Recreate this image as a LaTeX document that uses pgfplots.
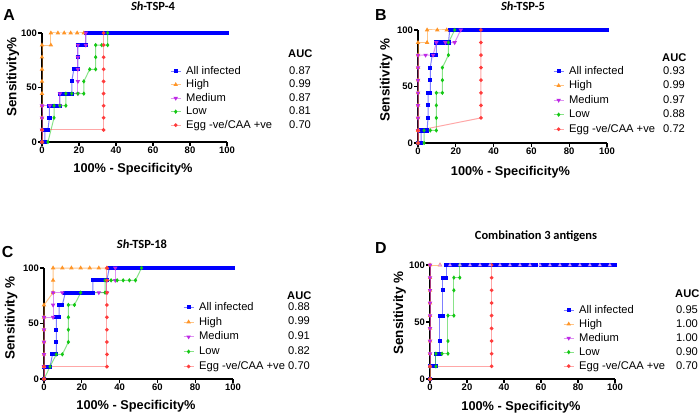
\documentclass[border=0pt]{standalone}
\usepackage{pgfplots}
\pgfplotsset{compat=1.18}
\usepackage{pgfplotstable}
\usepackage{fontspec}
\setmainfont{Liberation Sans}
\newfontfamily\calibri{Carlito}

\definecolor{cAll}{RGB}{0,0,255}
\definecolor{cHigh}{RGB}{255,150,40}
\definecolor{cMed}{RGB}{190,40,230}
\definecolor{cLow}{RGB}{20,200,20}
\definecolor{cEgg}{RGB}{255,60,60}

\pgfplotstableread[row sep=\\]{x y\\
0 100\\ 1 100\\ 2 100\\ 3 100\\ 4 100\\ 5 100\\ 6 100\\ 7 100\\ 8 100\\ 9 100\\
10 100\\ 11 100\\ 12 100\\ 13 100\\ 14 100\\ 15 100\\ 16 100\\ 17 100\\ 18 100\\ 19 100\\
20 100\\ 21 100\\ 22 100\\ 23 100\\ 24 100\\ 25 100\\ 26 100\\ 27 100\\ 28 100\\ 29 100\\
30 100\\ 31 100\\ 32 100\\ 33 100\\ 34 100\\ 35 100\\ 36 100\\ 37 100\\ 38 100\\ 39 100\\
40 100\\ 41 100\\ 42 100\\ 43 100\\ 44 100\\ 45 100\\ 46 100\\ 47 100\\ 48 100\\ 49 100\\
50 100\\ 51 100\\ 52 100\\ 53 100\\ 54 100\\ 55 100\\ 56 100\\ 57 100\\ 58 100\\ 59 100\\
60 100\\ 61 100\\ 62 100\\ 63 100\\ 64 100\\ 65 100\\ 66 100\\ 67 100\\ 68 100\\ 69 100\\
70 100\\ 71 100\\ 72 100\\ 73 100\\ 74 100\\ 75 100\\ 76 100\\ 77 100\\ 78 100\\ 79 100\\
80 100\\ 81 100\\ 82 100\\ 83 100\\ 84 100\\ 85 100\\ 86 100\\ 87 100\\ 88 100\\ 89 100\\
90 100\\ 91 100\\ 92 100\\ 93 100\\ 94 100\\ 95 100\\ 96 100\\ 97 100\\ 98 100\\ 99 100\\
100 100\\
}\toprow

\pgfplotsset{
  rocaxis/.style={
    scale only axis, xmin=0, xmax=100, ymin=0, ymax=100, clip=false,
    axis x line*=bottom, axis y line*=left,
    axis line style={line width=1.6bp, black, -},
    xtick={0,20,40,60,80,100}, ytick={0,50,100},
    tick align=outside, major tick length=4bp,
    every tick/.style={black, line width=1.2bp},
    ticklabel style={font=\bfseries\fontsize{9.5}{11}\selectfont, inner sep=1bp},
    /pgf/number format/assume math mode=true,
    legend cell align=left,
    legend image code/.code={\draw[mark repeat=2,mark phase=2] plot coordinates {(0bp,0bp)(5bp,0bp)(10bp,0bp)};},
    legend style={draw=none, fill=none, inner sep=0pt, anchor=north west,
      font=\fontsize{11.2}{13}\selectfont,
      nodes={inner sep=0pt, text height=8.5bp, text depth=2.5bp},
      /tikz/every odd column/.append style={column sep=5bp}},
  },
  sAll/.style={color=cAll, line width=1bp, draw opacity=0.5, mark=square*, mark size=1.6bp,
    mark options={solid, draw opacity=1, fill opacity=1, fill=cAll}},
  sHigh/.style={color=cHigh, line width=1bp, draw opacity=0.55, mark=triangle*, mark size=1.6bp,
    mark options={solid, draw opacity=1, fill opacity=1, fill=cHigh}},
  sMed/.style={color=cMed, line width=1bp, draw opacity=0.5, mark=triangle*, mark size=1.6bp,
    mark options={solid, rotate=180, draw opacity=1, fill opacity=1, fill=cMed}},
  sLow/.style={color=cLow, line width=1bp, draw opacity=0.5, mark=diamond*, mark size=1.4bp,
    mark options={solid, draw opacity=1, fill opacity=1, fill=cLow}},
  sEgg/.style={color=cEgg, line width=1bp, draw opacity=0.45, mark=*, mark size=1.3bp,
    mark options={solid, draw opacity=1, fill opacity=1, fill=cEgg}},
}

\newcommand\ttlf{\calibri\bfseries\fontsize{12.5}{14}\selectfont}
\newcommand\lettf{\bfseries\fontsize{16}{18}\selectfont}
\newcommand\xlf{\bfseries\fontsize{12.8}{14}\selectfont}
\newcommand\ylf{\bfseries\fontsize{13.5}{15}\selectfont}
\newcommand\lgf{\fontsize{11.2}{13}\selectfont}

\begin{document}
\begin{tikzpicture}[x=1bp,y=1bp]
\useasboundingbox (0,0) rectangle (700,416);
\fill[white] (0,0) rectangle (700,416);

% ---------------- A ----------------
\begin{axis}[rocaxis, at={(42bp,274bp)}, anchor=south west, width=185bp, height=109bp,
  legend style={at={(0.692,0.702)}, row sep=2.5bp}]
\addplot[sAll, forget plot, restrict x to domain=24:32] table {\toprow};
\addplot[sAll, forget plot, restrict x to domain=34:100] table {\toprow};
\addplot[sAll] coordinates {(0,0)(0.8,0)(1.6,0)(1.6,11.1)(2.4,11.1)(3.2,11.1)(4,22.2)(4,33.3)(5,33.3)(6,33.3)(7,33.3)(8,33.3)(9.7,33.3)(9.7,44.4)(11,44.4)(12,44.4)(13,44.4)(14,44.4)(15,44.4)(16.1,44.4)(16.1,55.6)(17.2,66.7)(18.3,66.7)(19.4,66.7)(19.4,77.8)(19.4,88.9)(20.4,88.9)(21.5,88.9)(22.6,88.9)(23.7,88.9)(23.7,100)};
\addlegendentry{All infected}
\addplot[sHigh] coordinates {(0,0)(0,11.1)(0,22.2)(0,33.3)(0,44.4)(0,55.6)(0,66.7)(0,77.8)(0,88.9)(4.8,88.9)(4.8,100)(8.6,100)(12,100)(15.5,100)(19,100)(22.6,100)};
\addlegendentry{High}
\addplot[sMed] coordinates {(0,0)(0,11.1)(0,22.2)(0,33.3)(4.2,33.3)(9.7,33.3)(9.7,44.4)(19.4,44.4)(19.4,55.6)(19.4,66.7)(19.4,77.8)(19.4,88.9)(23.7,88.9)(23.7,100)};
\addlegendentry{Medium}
\addplot[sLow] coordinates {(0,0)(3.2,0)(6.5,22.2)(6.5,33.3)(9.7,33.3)(12.9,33.3)(12.9,44.4)(16.1,44.4)(19.4,44.4)(22.6,44.4)(22.6,55.6)(25.8,66.7)(29,66.7)(29,77.8)(29,88.9)(32.3,88.9)(35.5,88.9)(35.5,100)};
\addlegendentry{Low}
\addplot[sEgg] coordinates {(0,0)(0,11.1)(33.3,11.1)(33.3,22.2)(33.3,33.3)(33.3,44.4)(33.3,55.6)(33.3,66.7)(33.3,77.8)(33.3,88.9)(33.3,100)};
\addlegendentry{Egg -ve/CAA +ve}
\end{axis}

% ---------------- B ----------------
\begin{axis}[rocaxis, at={(418bp,273bp)}, anchor=south west, width=189bp, height=113bp,
  legend style={at={(0.714,0.686)}, row sep=3.5bp}]
\addplot[sAll, forget plot, restrict x to domain=17:100] table {\toprow};
\addplot[sAll] coordinates {(0,0)(0.8,0)(1.6,0)(1.6,11.1)(2.4,11.1)(3.2,11.1)(4,11.1)(4.8,11.1)(5.3,22.2)(5.3,33.3)(5.3,44.4)(6,44.4)(6.5,44.4)(6.5,55.6)(6.5,66.7)(7.5,77.8)(8.5,77.8)(9.7,77.8)(9.7,88.9)(10.5,88.9)(11.3,88.9)(12.1,88.9)(12.9,88.9)(13.7,88.9)(14.5,88.9)(15.3,88.9)(16.1,88.9)(16.8,100)};
\addlegendentry{All infected}
\addplot[sHigh] coordinates {(0,0)(0,11.1)(0,22.2)(0,33.3)(0,44.4)(0,55.6)(0,66.7)(0,77.8)(0,88.9)(4.8,88.9)(4.8,100)(10.2,100)(15.2,100)};
\addlegendentry{High}
\addplot[sMed] coordinates {(0,0)(0,11.1)(0,22.2)(0,33.3)(0,44.4)(0,55.6)(0,66.7)(0,77.8)(4,77.8)(8,77.8)(9.7,88.9)(14.5,88.9)(19.4,88.9)(22.6,100)};
\addlegendentry{Medium}
\addplot[sLow] coordinates {(0,0)(3.2,0)(3.2,11.1)(6.5,11.1)(9.7,11.1)(9.7,22.2)(9.7,33.3)(9.7,44.4)(12.9,44.4)(12.9,55.6)(12.9,66.7)(16.1,77.8)(16.1,88.9)(19.4,100)};
\addlegendentry{Low}
\addplot[sEgg] coordinates {(0,0)(0,11.1)(33.3,22.2)(33.3,33.3)(33.3,44.4)(33.3,55.6)(33.3,66.7)(33.3,77.8)(33.3,88.9)(33.3,100)};
\addlegendentry{Egg -ve/CAA +ve}
\end{axis}

% ---------------- C ----------------
\begin{axis}[rocaxis, at={(44bp,37bp)}, anchor=south west, width=189bp, height=111bp,
  legend style={at={(0.735,0.698)}, row sep=3.8bp}]
\addplot[sAll, forget plot, restrict x to domain=35:100] table {\toprow};
\addplot[sAll] coordinates {(0,0)(0,11.1)(1.6,11.1)(3.2,11.1)(4.5,22.2)(5.5,22.2)(6.5,22.2)(6.5,33.3)(6.5,44.4)(6.5,55.6)(8,55.6)(8,66.7)(9,66.7)(9.7,66.7)(11.3,77.8)(12.9,77.8)(14,77.8)(15,77.8)(16,77.8)(17,77.8)(18,77.8)(19,77.8)(20,77.8)(21,77.8)(22,77.8)(23,77.8)(24,77.8)(25.8,77.8)(25.8,88.9)(27,88.9)(28,88.9)(29,88.9)(30,88.9)(31,88.9)(32,88.9)(33.3,88.9)(34.5,100)};
\addlegendentry{All infected}
\addplot[sHigh] coordinates {(0,0)(0,11.1)(0,22.2)(0,33.3)(0,44.4)(0,55.6)(0,66.7)(4.8,77.8)(4.8,88.9)(4.8,100)(9.7,100)(14.5,100)(19.4,100)(24.2,100)(29,100)(33.3,100)};
\addlegendentry{High}
\addplot[sMed] coordinates {(0,0)(0,11.1)(0,22.2)(0,33.3)(0,44.4)(0,55.6)(4.8,55.6)(4.8,66.7)(4.8,77.8)(9.7,77.8)(29,77.8)(33.3,77.8)(33.3,88.9)(37.7,88.9)(37.7,100)};
\addlegendentry{Medium}
\addplot[sLow] coordinates {(0,0)(3.2,11.1)(6.5,22.2)(9.7,22.2)(12.9,33.3)(12.9,44.4)(12.9,55.6)(12.9,66.7)(16.1,66.7)(19.4,77.8)(32.3,77.8)(32.3,88.9)(35.5,88.9)(38.7,88.9)(41.9,88.9)(45.2,88.9)(48.4,88.9)(51.6,100)};
\addlegendentry{Low}
\addplot[sEgg] coordinates {(0,0)(0,11.1)(33.3,11.1)(33.3,22.2)(33.3,33.3)(33.3,44.4)(33.3,55.6)(33.3,66.7)(33.3,77.8)(33.3,88.9)(33.3,100)};
\addlegendentry{Egg -ve/CAA +ve}
\end{axis}

% ---------------- D ----------------
\begin{axis}[rocaxis, at={(430bp,37bp)}, anchor=south west, width=185bp, height=114bp,
  legend style={at={(0.719,0.654)}, row sep=3bp}]
\addplot[sAll, forget plot, restrict x to domain=9:57] table {\toprow};
\addplot[sAll, forget plot, restrict x to domain=60:100] table {\toprow};
\addplot[sAll] coordinates {(0,0)(0,11.1)(1.6,11.1)(3.2,11.1)(3.2,22.2)(4.2,22.2)(5.3,22.2)(5.3,33.3)(5.3,55.6)(6.3,55.6)(7,55.6)(7,77.8)(7,88.9)(8,88.9)(8.8,88.9)(8.8,100)};
\addlegendentry{All infected}
\addplot[sHigh] coordinates {(0,0)(0,11.1)(0,22.2)(0,33.3)(0,44.4)(0,55.6)(0,66.7)(0,77.8)(0,88.9)(0,100)(5.4,100)};
\addlegendentry{High}
\addplot[sMed] coordinates {(0,0)(0,11.1)(0,22.2)(0,33.3)(0,44.4)(0,55.6)(0,66.7)(0,77.8)(0,88.9)(0,100)};
\addlegendentry{Medium}
\addplot[sLow] coordinates {(0,0)(0,11.1)(3.2,11.1)(3.2,22.2)(6.5,22.2)(9.7,22.2)(9.7,33.3)(9.7,55.6)(12.9,55.6)(12.9,77.8)(12.9,88.9)(16.1,88.9)(16.1,100)};
\addlegendentry{Low}
\addplot[sEgg] coordinates {(0,0)(0,11.1)(33.3,11.1)(33.3,22.2)(33.3,33.3)(33.3,44.4)(33.3,55.6)(33.3,66.7)(33.3,77.8)(33.3,88.9)(33.3,100)};
\addlegendentry{Egg -ve/CAA +ve}
\addplot[sMed, only marks, forget plot, mark options={fill=cMed!45, draw=cMed!45}] coordinates {(5.4,100)(10.8,100)(16.2,100)(21.6,100)(27,100)(32.4,100)(37.8,100)(43.2,100)(48.6,100)(54,100)(59.4,100)(64.8,100)(70.2,100)(75.6,100)(81,100)(86.4,100)(91.8,100)(97.2,100)};
\end{axis}

% ---------------- titles, labels, AUC ----------------
\node[anchor=base] at (153,405) {\ttlf\textit{Sh}-TSP-4};
\node[anchor=base] at (523,405) {\ttlf\textit{Sh}-TSP-5};
\node[anchor=base] at (142,167.3) {\ttlf\textit{Sh}-TSP-18};
\node[anchor=base] at (536,177) {\ttlf Combination 3 antigens};

\node[anchor=base west, inner sep=0pt] at (3.3,395.3) {\lettf A};
\node[anchor=base west, inner sep=0pt] at (375,395.3) {\lettf B};
\node[anchor=base west, inner sep=0pt] at (1.7,159) {\lettf C};
\node[anchor=base west, inner sep=0pt] at (375,163) {\lettf D};

\node[anchor=base, inner sep=0pt] at (133,243.3) {\xlf 100\% - Specificity\%};
\node[anchor=base, inner sep=0pt] at (510.5,241) {\xlf 100\% - Specificity\%};
\node[anchor=base, inner sep=0pt] at (136,6.3) {\xlf 100\% - Specificity\%};
\node[anchor=base, inner sep=0pt] at (521,5.3) {\xlf 100\% - Specificity\%};

\node[anchor=base, rotate=90, inner sep=0pt] at (16.4,339) {\ylf Sensitivity\%};
\node[anchor=base, rotate=90, inner sep=0pt] at (389.7,336) {\ylf Sensitivity \%};
\node[anchor=base, rotate=90, inner sep=0pt] at (14.7,98) {\ylf Sensitivity \%};
\node[anchor=base, rotate=90, inner sep=0pt] at (403,103) {\ylf Sensitivity \%};

% AUC columns
\node[anchor=base west, inner sep=0pt] at (288,359) {\lgf\bfseries AUC};
\foreach \v/\y in {0.87/342, 0.99/328.5, 0.87/315, 0.81/301.5, 0.70/288}
  \node[anchor=base west, inner sep=0pt] at (289,\y) {\lgf \v};
\node[anchor=base west, inner sep=0pt] at (662,355) {\lgf\bfseries AUC};
\foreach \v/\y in {0.93/342, 0.99/327.5, 0.97/313, 0.88/298.5, 0.72/284}
  \node[anchor=base west, inner sep=0pt] at (663,\y) {\lgf \v};
\node[anchor=base west, inner sep=0pt] at (287,117) {\lgf\bfseries AUC};
\foreach \v/\y in {0.88/106, 0.99/91.2, 0.91/76.4, 0.82/61.6, 0.70/46.8}
  \node[anchor=base west, inner sep=0pt] at (288,\y) {\lgf \v};
\node[anchor=base west, inner sep=0pt] at (675,119) {\lgf\bfseries AUC};
\foreach \v/\y in {0.95/103, 1.00/89, 1.00/75, 0.90/61, 0.70/47}
  \node[anchor=base west, inner sep=0pt] at (676,\y) {\lgf \v};
\end{tikzpicture}
\end{document}
